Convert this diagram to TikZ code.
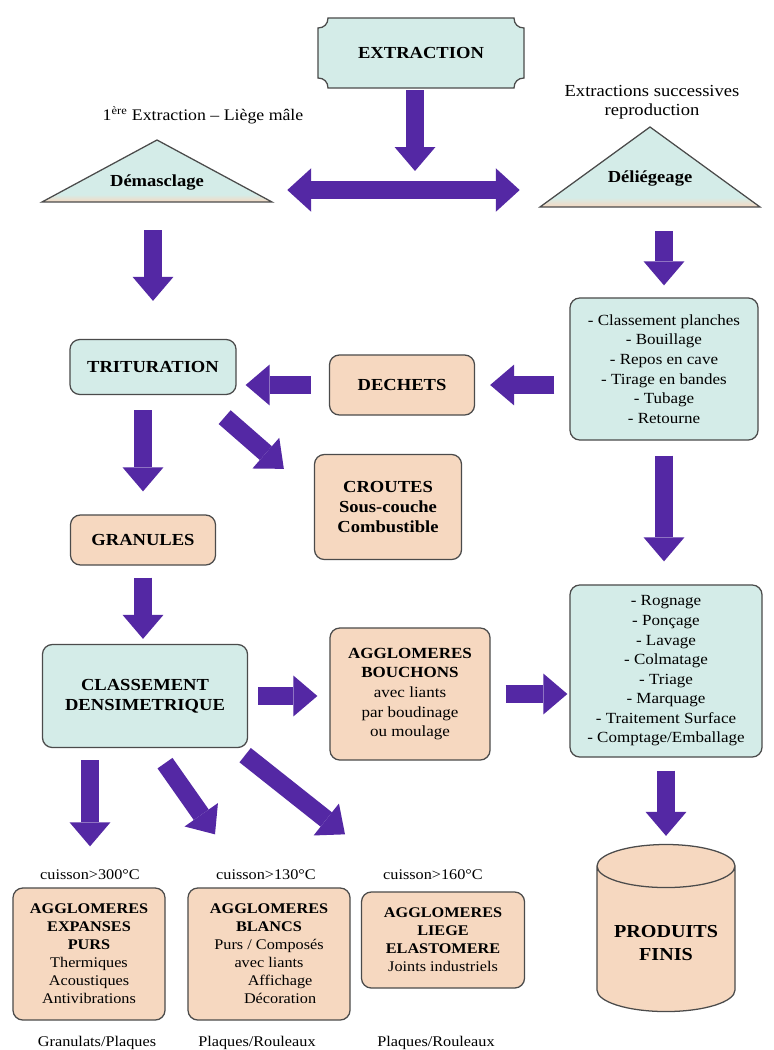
\documentclass[tikz,border=0pt]{standalone}
\usepackage{fontspec}
\setmainfont{Liberation Serif}[FakeStretch=1.1]
\usetikzlibrary{arrows.meta,calc,shapes.geometric}
\definecolor{BleuClr}{RGB}{212,236,232}
\definecolor{BeigeClr}{RGB}{246,216,192}
\definecolor{FlecheClr}{RGB}{84,40,164}
\definecolor{BordClr}{RGB}{75,75,75}
\pgfdeclareverticalshading{triangle}{100bp}{color(0bp)=(BeigeClr); color(25bp)=(BeigeClr); color(31bp)=(BleuClr); color(100bp)=(BleuClr)}

\begin{document}
\begin{tikzpicture}[x=0.025cm,y=-0.025cm,
  texte/.style={font=\fontsize{10.5}{13}\selectfont,inner sep=1pt,align=center},
  boite/.style={draw=BordClr,line width=0.9pt,rounded corners=7pt,align=center,inner sep=2pt,font=\fontsize{11}{13.9}\selectfont},
  bleu/.style={boite,fill=BleuClr},
  beige/.style={boite,fill=BeigeClr},
  petit/.style={font=\fontsize{10.5}{12.8}\selectfont},
  titre/.style={font=\fontsize{12}{14}\selectfont\bfseries},
  tri/.style={draw=BordClr,line width=0.9pt,shading=triangle},
  fleche/.style={draw=FlecheClr,line width=13pt,-{Triangle[length=17pt,width=29pt,line width=0pt]}},
  double fleche/.style={draw=FlecheClr,line width=13pt,{Triangle[length=17pt,width=31pt,line width=0pt]}-{Triangle[length=17pt,width=31pt,line width=0pt]}}]
\path[use as bounding box,fill=white] (0,0) rectangle (774,1050);

% Extraction (plaque aux coins creux).
\draw[fill=BleuClr,draw=BordClr,line width=0.9pt] (328,18) -- (514,18) .. controls (514,24) and (518,28) .. (524,28) -- (524,78) .. controls (518,78) and (514,82) .. (514,88) -- (328,88) .. controls (328,82) and (324,78) .. (318,78) -- (318,28) .. controls (324,28) and (328,24) .. (328,18) -- cycle;
\node[titre,minimum width=5.15cm,minimum height=1.75cm] (extraction) at (421,53) {EXTRACTION};
\coordinate (fin-ext) at (415,171);

% Les deux triangles et leurs titres.
\draw[tri] (42,202) -- (157,140) -- (272,202) -- cycle;
\draw[tri] (540,207) -- (650,127) -- (760,207) -- cycle;
\node[titre,minimum width=5.75cm,inner sep=1pt] (demasclage) at (157,183) {Démasclage};
\node[titre,minimum width=5.5cm,inner sep=1pt] (deliegeage) at (650,179) {Déliégeage};
\node[texte,font=\fontsize{11.5}{13.5}\selectfont] (male) at (203,115) {1\textsuperscript{ère} Extraction – Liège mâle};
\node[texte,font=\fontsize{12}{13.5}\selectfont] (succ) at (652,102) {Extractions successives\\reproduction};

% Boites du milieu.
\node[bleu,minimum width=4.7cm,minimum height=3.55cm] (planches) at (664,369) {- Classement planches\\- Bouillage\\- Repos en cave\\- Tirage en bandes\\- Tubage\\- Retourne};
\node[bleu,titre,minimum width=4.15cm,minimum height=1.375cm] (trit) at (153,367) {TRITURATION};
\node[beige,titre,minimum width=3.625cm,minimum height=1.5cm] (dechets) at (402,385) {DECHETS};
\node[beige,titre,minimum width=3.675cm,minimum height=2.625cm] (croutes) at (388,507) {CROUTES\\Sous-couche\\Combustible};
\node[beige,titre,minimum width=3.625cm,minimum height=1.25cm] (granules) at (143,540) {GRANULES};
\node[bleu,titre,minimum width=5.125cm,minimum height=2.575cm] (classement) at (145,696) {CLASSEMENT\\DENSIMETRIQUE};
\node[beige,minimum width=4cm,minimum height=3.3cm] (bouchons) at (410,694) {\textbf{AGGLOMERES}\\\textbf{BOUCHONS}\\avec liants\\par boudinage\\ou moulage};
\node[bleu,minimum width=4.8cm,minimum height=4.3cm] (finition) at (666,671) {- Rognage\\- Ponçage\\- Lavage\\- Colmatage\\- Triage\\- Marquage\\- Traitement Surface\\- Comptage/Emballage};
\node[cylinder,shape border rotate=90,aspect=0.38,draw=BordClr,line width=0.9pt,fill=BeigeClr,font=\fontsize{13}{16}\selectfont\bfseries,align=center,minimum width=3.45cm,minimum height=4.175cm] (produits) at (666,943) {PRODUITS\\FINIS};

% Agglomeres du bas.
\node[texte] (cuis1) at (90,875) {cuisson>300°C};
\node[texte] (cuis2) at (266,875) {cuisson>130°C};
\node[texte] (cuis3) at (433,875) {cuisson>160°C};
\node[beige,petit,minimum width=3.8cm,minimum height=3.3cm] (aggl1) at (89,954) {\textbf{AGGLOMERES}\\\textbf{EXPANSES}\\\textbf{PURS}\\Thermiques\\Acoustiques\\Antivibrations};
\node[beige,petit,minimum width=4.05cm,minimum height=3.3cm] (aggl2) at (269,954) {\textbf{AGGLOMERES}\\\textbf{BLANCS}\\Purs / Composés\\avec liants\hspace*{3.2em}\\\hspace*{1.5em}Affichage\\\hspace*{1.5em}Décoration};
\node[beige,petit,minimum width=4.075cm,minimum height=2.4cm] (aggl3) at (443,940) {\textbf{AGGLOMERES}\\\textbf{LIEGE}\\\textbf{ELASTOMERE}\\Joints industriels};
\node[texte] (bas1) at (97,1043) {Granulats/Plaques};
\node[texte] (bas2) at (257,1043) {Plaques/Rouleaux};
\node[texte] (bas3) at (436,1043) {Plaques/Rouleaux};

% Fleches.
\draw[fleche,shorten <=0.05cm] (extraction.south -| fin-ext) -- (fin-ext);
\draw[double fleche,shorten <=0.375cm,shorten >=0.5cm] ([yshift=-5pt]demasclage.east) -- ([yshift=-5pt]demasclage.east -| deliegeage.west);
\draw[fleche,shorten <=0.95cm,shorten >=0.95cm] (demasclage.south -| trit.north) -- (trit.north);
\draw[fleche,shorten <=1.075cm,shorten >=0.3cm] (deliegeage.south -| planches.north) -- (planches.north);
\draw[fleche,shorten <=0.375cm,shorten >=0.375cm] (planches.west |- dechets.east) -- (dechets.east);
\draw[fleche,shorten <=0.45cm,shorten >=0.225cm] (dechets.west) -- (dechets.west -| trit.east);
\draw[fleche,shorten <=0.375cm,shorten >=0.575cm] (planches.south) -- (planches.south |- finition.north);
\draw[fleche,shorten <=0.375cm,shorten >=0.575cm] (trit.south -| granules.north) -- (granules.north);
\draw[fleche] ($(trit.south east)+(-12,22)$) -- ($(croutes.north west)+(-30,15)$);
\draw[fleche,shorten <=0.3cm,shorten >=0.125cm] (granules.south) -- (granules.south |- classement.north);
\draw[fleche,shorten <=0.25cm,shorten >=0.3cm] (classement.east) -- (classement.east -| bouchons.west);
\draw[fleche,shorten <=0.375cm,shorten >=0.05cm] (bouchons.east) -- (bouchons.east -| finition.west);
\draw[fleche,shorten <=0.325cm,shorten >=0.2cm] (finition.south -| produits.north) -- (produits.north);
\draw[fleche,shorten <=0.3cm,shorten >=0.55cm] (classement.south -| cuis1.north) -- (cuis1.north);
\draw[fleche] ($(classement.south)+(20,15)$) -- ($(cuis2.north)+(-51,-34)$);
\draw[fleche] ($(classement.south east)+(-3,7)$) -- ($(cuis3.north)+(-88,-34)$);

\end{tikzpicture}
\end{document}
